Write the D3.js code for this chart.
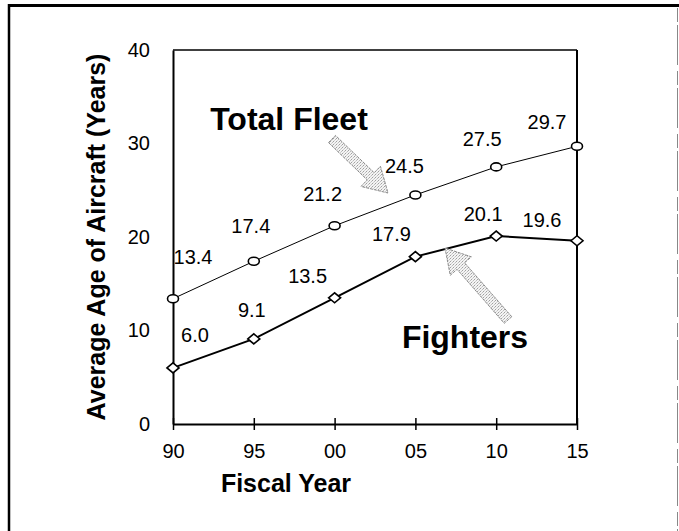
<!DOCTYPE html>
<html>
<head>
<meta charset="utf-8">
<script src="https://cdn.jsdelivr.net/npm/d3@7"></script>
<style>
  html, body { margin: 0; padding: 0; background: #fff; }
  svg { display: block; }
  text { font-family: "Liberation Sans", Arial, sans-serif; fill: #000; }
</style>
</head>
<body>
<script>
// Fiscal years and average aircraft age (years)
const years = ["90", "95", "00", "05", "10", "15"];
const totalFleet = [13.4, 17.4, 21.2, 24.5, 27.5, 29.7];
const fighters = [6.0, 9.1, 13.5, 17.9, 20.1, 19.6];
const yTicks = [0, 10, 20, 30, 40];

// Value label placement (pixel offsets from each marker)
const fleetLabelDx = [20, -3, -12, -11, -14, -30];
const fleetLabelDy = [-42, -35, -32, -29, -28, -24];
const fighterLabelDx = [22, -2, -27, -24, -13, -35];
const fighterLabelDy = [-33, -29, -22, -23, -22, -21];

const W = 679, H = 531;
const svg = d3.select("body").append("svg").attr("width", W).attr("height", H);

// stipple fill for the callout arrows
const defs = svg.append("defs");
const pat = defs.append("pattern").attr("id", "stipple")
  .attr("width", 3).attr("height", 3).attr("patternUnits", "userSpaceOnUse");
pat.append("rect").attr("width", 3).attr("height", 3).attr("fill", "#f4f4f4");
pat.append("rect").attr("x", 0).attr("y", 0).attr("width", 1).attr("height", 1).attr("fill", "#a0a0a0");
pat.append("rect").attr("x", 2).attr("y", 1).attr("width", 1).attr("height", 1).attr("fill", "#bdbdbd");
pat.append("rect").attr("x", 1).attr("y", 2).attr("width", 1).attr("height", 1).attr("fill", "#d0d0d0");

// outer frame
svg.append("line").attr("x1", 8).attr("x2", W).attr("y1", 5.5).attr("y2", 5.5)
  .attr("stroke", "#000").attr("stroke-width", 3);
svg.append("line").attr("x1", 9).attr("x2", 9).attr("y1", 4).attr("y2", H)
  .attr("stroke", "#000").attr("stroke-width", 2.5);
svg.append("line").attr("x1", 677.5).attr("x2", 677.5).attr("y1", 8).attr("y2", H)
  .attr("stroke", "#888").attr("stroke-width", 1).attr("stroke-dasharray", "14,3,40,6");

const x = d3.scalePoint().domain(years).range([173, 577]);
const y = d3.scaleLinear().domain([0, 40]).range([424, 50]);

// plot box
svg.append("line").attr("x1", x.range()[0]).attr("x2", x.range()[1])
  .attr("y1", y(40)).attr("y2", y(40)).attr("stroke", "#000").attr("stroke-width", 1.5);
svg.append("line").attr("x1", x.range()[1]).attr("x2", x.range()[1])
  .attr("y1", y(40)).attr("y2", y(0)).attr("stroke", "#000").attr("stroke-width", 2);

// x axis
const xAxis = svg.append("g").attr("transform", `translate(0,${y(0)})`)
  .call(d3.axisBottom(x).tickSizeInner(6).tickSizeOuter(0).tickPadding(14));
xAxis.select(".domain").attr("stroke", "#000").attr("stroke-width", 2);
xAxis.selectAll(".tick line").attr("y1", -6).attr("stroke", "#000").attr("stroke-width", 1.5);
xAxis.selectAll(".tick text").attr("font-size", 20)
  .attr("font-family", "Liberation Sans, Arial, sans-serif").attr("fill", "#000");

// y axis
const yAxis = svg.append("g").attr("transform", `translate(${x.range()[0]},0)`)
  .call(d3.axisLeft(y).tickValues(yTicks).tickSize(0).tickPadding(23));
yAxis.select(".domain").attr("stroke", "#000").attr("stroke-width", 2);
yAxis.selectAll(".tick text").attr("font-size", 20)
  .attr("font-family", "Liberation Sans, Arial, sans-serif").attr("fill", "#000");

// axis titles
svg.append("text").attr("x", 286).attr("y", 483).attr("dy", "0.35em")
  .attr("text-anchor", "middle").attr("font-size", 25).attr("font-weight", "bold")
  .text("Fiscal Year");
svg.append("text").attr("transform", "translate(96,237) rotate(-90)")
  .attr("dy", "0.35em").attr("text-anchor", "middle")
  .attr("font-size", 25).attr("font-weight", "bold")
  .text("Average Age of Aircraft (Years)");

// series lines
const line = d3.line().x((d, i) => x(years[i])).y(d => y(d));
svg.append("path").datum(totalFleet).attr("d", line)
  .attr("fill", "none").attr("stroke", "#000").attr("stroke-width", 1);
svg.append("path").datum(fighters).attr("d", line)
  .attr("fill", "none").attr("stroke", "#000").attr("stroke-width", 2);

// markers
svg.append("g").selectAll("ellipse").data(totalFleet).join("ellipse")
  .attr("cx", (d, i) => x(years[i])).attr("cy", d => y(d))
  .attr("rx", 5.5).attr("ry", 4)
  .attr("fill", "#fff").attr("stroke", "#000").attr("stroke-width", 1.6);
svg.append("g").selectAll("path").data(fighters).join("path")
  .attr("transform", (d, i) => `translate(${x(years[i])},${y(d)})`)
  .attr("d", "M-6,0L0,-5L6,0L0,5Z")
  .attr("fill", "#fff").attr("stroke", "#000").attr("stroke-width", 1.6);

// value labels
svg.append("g").selectAll("text").data(totalFleet).join("text")
  .attr("x", (d, i) => x(years[i]) + fleetLabelDx[i])
  .attr("y", (d, i) => y(d) + fleetLabelDy[i])
  .attr("dy", "0.35em").attr("text-anchor", "middle").attr("font-size", 20)
  .text(d => d.toFixed(1));
svg.append("g").selectAll("text").data(fighters).join("text")
  .attr("x", (d, i) => x(years[i]) + fighterLabelDx[i])
  .attr("y", (d, i) => y(d) + fighterLabelDy[i])
  .attr("dy", "0.35em").attr("text-anchor", "middle").attr("font-size", 20)
  .text(d => d.toFixed(1));

// series names
svg.append("text").attr("x", 289).attr("y", 119).attr("dy", "0.35em")
  .attr("text-anchor", "middle").attr("font-size", 32).attr("font-weight", "bold")
  .text("Total Fleet");
svg.append("text").attr("x", 465).attr("y", 337).attr("dy", "0.35em")
  .attr("text-anchor", "middle").attr("font-size", 32).attr("font-weight", "bold")
  .text("Fighters");

// block callout arrows
function arrowPath(tail, tip, shaft, headLen, headW) {
  const dx = tip[0] - tail[0], dy = tip[1] - tail[1];
  const len = Math.hypot(dx, dy);
  const ux = dx / len, uy = dy / len, nx = -uy, ny = ux;
  const bx = tip[0] - ux * headLen, by = tip[1] - uy * headLen;
  const p = [
    [tail[0] + nx * shaft / 2, tail[1] + ny * shaft / 2],
    [bx + nx * shaft / 2, by + ny * shaft / 2],
    [bx + nx * headW / 2, by + ny * headW / 2],
    tip,
    [bx - nx * headW / 2, by - ny * headW / 2],
    [bx - nx * shaft / 2, by - ny * shaft / 2],
    [tail[0] - nx * shaft / 2, tail[1] - ny * shaft / 2]
  ];
  return "M" + p.map(q => q.join(",")).join("L") + "Z";
}
const arrows = [
  { tail: [332, 139], tip: [388, 193] },
  { tail: [508, 320], tip: [445, 248] }
];
svg.append("g").selectAll("path").data(arrows).join("path")
  .attr("d", d => arrowPath(d.tail, d.tip, 10, 24, 28))
  .attr("fill", "url(#stipple)").attr("stroke", "#8a8a8a")
  .attr("stroke-width", 1).attr("stroke-dasharray", "3,1");
</script>
</body>
</html>
